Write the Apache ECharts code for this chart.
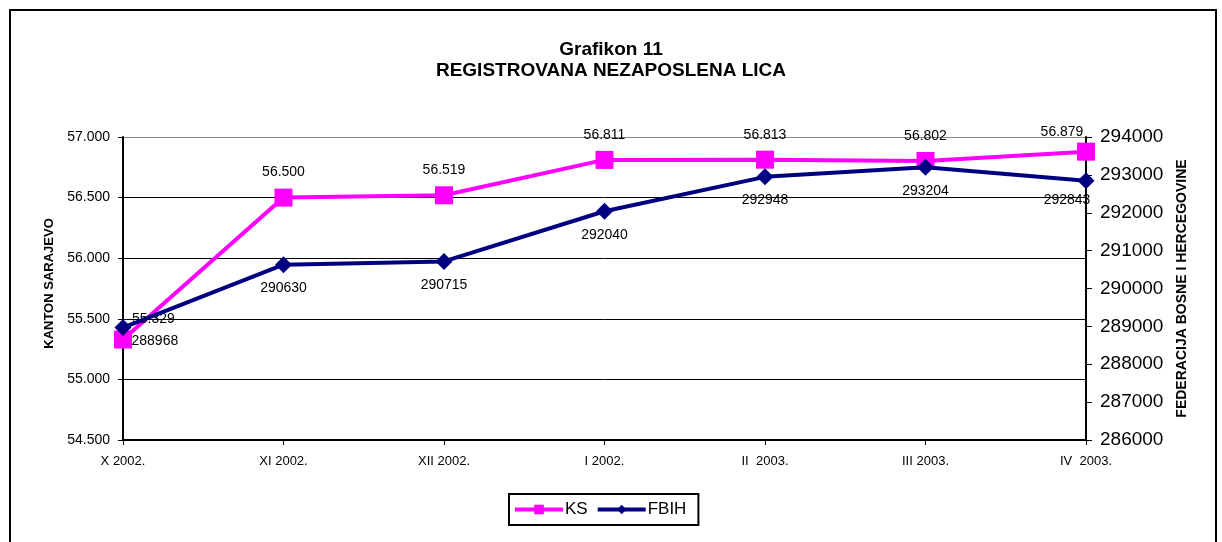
<!DOCTYPE html>
<html><head><meta charset="utf-8">
<script src="https://cdn.jsdelivr.net/npm/echarts@6/dist/echarts.min.js"></script>
<style>html,body{margin:0;padding:0;background:#fff}#c{width:1222px;height:542px}</style>
</head><body><div id="c"></div>
<script>
var categories = ['X 2002.', 'XI 2002.', 'XII 2002.', 'I 2002.', 'II  2003.', 'III 2003.', 'IV  2003.'];
var ksValues = [55.329, 56.500, 56.519, 56.811, 56.813, 56.802, 56.879];
var fbihValues = [288968, 290630, 290715, 292040, 292948, 293204, 292843];
var leftTicks = {min: 54.5, max: 57.0, interval: 0.5};
var rightTicks = {min: 286000, max: 294000, interval: 1000};

var FONT = '"Liberation Sans", Arial, sans-serif';
var chart = echarts.init(document.getElementById('c'), null, {renderer: 'canvas'});

function ksData() {
  return ksValues.map(function (v, i) {
    var d = {value: v};
    if (i === 0) d.label = {position: 'right', distance: 0, offset: [0, -20]};
    if (i === ksValues.length - 1) d.label = {position: 'top', distance: 4, offset: [-24, 0]};
    return d;
  });
}
function fbData() {
  return fbihValues.map(function (v, i) {
    var d = {value: v};
    if (i === 0) d.label = {position: 'right', distance: 0, offset: [0, 14]};
    if (i === fbihValues.length - 1) d.label = {position: 'bottom', distance: 4, offset: [-19, 0]};
    return d;
  });
}

chart.setOption({
  animation: false,
  backgroundColor: '#fff',
  textStyle: {fontFamily: FONT},
  graphic: [{
    type: 'rect', shape: {x: 10, y: 10, width: 1206, height: 600},
    style: {fill: 'none', stroke: '#000', lineWidth: 2}, silent: true
  }],
  title: {
    text: 'Grafikon 11\nREGISTROVANA NEZAPOSLENA LICA',
    left: 'center', top: 34,
    textStyle: {fontFamily: FONT, fontWeight: 'bold', fontSize: 19, lineHeight: 21, color: '#000'}
  },
  legend: {
    data: ['KS', 'FBIH'],
    left: 509, top: 494,
    padding: [7, 12, 7, 4],
    borderColor: '#000', borderWidth: 2,
    itemWidth: 48, itemHeight: 12, itemGap: 8,
    lineStyle: {width: 4},
    textStyle: {fontFamily: FONT, fontSize: 17, color: '#000', padding: [0, 0, 0, -3]}
  },
  grid: {left: 123, right: 136, top: 137, bottom: 102, containLabel: false},
  xAxis: {
    type: 'category', data: categories, boundaryGap: false,
    axisLine: {lineStyle: {color: '#000', width: 2}},
    axisTick: {show: true, alignWithLabel: true, length: 5, lineStyle: {color: '#000'}},
    axisLabel: {fontFamily: FONT, fontSize: 13, color: '#000', margin: 15}
  },
  yAxis: [{
    type: 'value', min: leftTicks.min, max: leftTicks.max, interval: leftTicks.interval,
    name: 'KANTON SARAJEVO', nameLocation: 'middle', nameRotate: 90, nameGap: 67,
    nameTextStyle: {fontFamily: FONT, fontWeight: 'bold', fontSize: 13, color: '#000', padding: [0, 0, 0, 10]},
    axisLine: {show: true, lineStyle: {color: '#000', width: 2}},
    axisTick: {show: true, length: 5, lineStyle: {color: '#000'}},
    axisLabel: {fontFamily: FONT, fontSize: 14, color: '#000', margin: 13,
      formatter: function (v) { return v.toFixed(3); }},
    splitLine: {show: true, lineStyle: {color: ['#000', '#000', '#000', '#000', '#000', '#888'], width: 1}}
  }, {
    type: 'value', min: rightTicks.min, max: rightTicks.max, interval: rightTicks.interval,
    position: 'right',
    name: 'FEDERACIJA BOSNE I HERCEGOVINE', nameLocation: 'middle', nameRotate: 90, nameGap: 89,
    nameTextStyle: {fontFamily: FONT, fontWeight: 'bold', fontSize: 14, color: '#000'},
    axisLine: {show: true, lineStyle: {color: '#000', width: 2}},
    axisTick: {show: true, length: 6, lineStyle: {color: '#000'}},
    axisLabel: {fontFamily: FONT, fontSize: 19, color: '#000', margin: 14,
      formatter: function (v) { return String(v); }},
    splitLine: {show: false}
  }],
  series: [{
    name: 'KS', type: 'line', yAxisIndex: 0, data: ksData(),
    symbol: 'rect', symbolSize: 18,
    lineStyle: {color: '#FF00FF', width: 4},
    itemStyle: {color: '#FF00FF'},
    label: {show: true, position: 'top', distance: 9, fontFamily: FONT, fontSize: 14, color: '#000',
      formatter: function (p) { return p.value.toFixed(3); }},
    z: 2
  }, {
    name: 'FBIH', type: 'line', yAxisIndex: 1, data: fbData(),
    symbol: 'diamond', symbolSize: 17,
    lineStyle: {color: '#000080', width: 4},
    itemStyle: {color: '#000080'},
    label: {show: true, position: 'bottom', distance: 8, fontFamily: FONT, fontSize: 14, color: '#000'},
    z: 3
  }]
});
</script></body></html>
